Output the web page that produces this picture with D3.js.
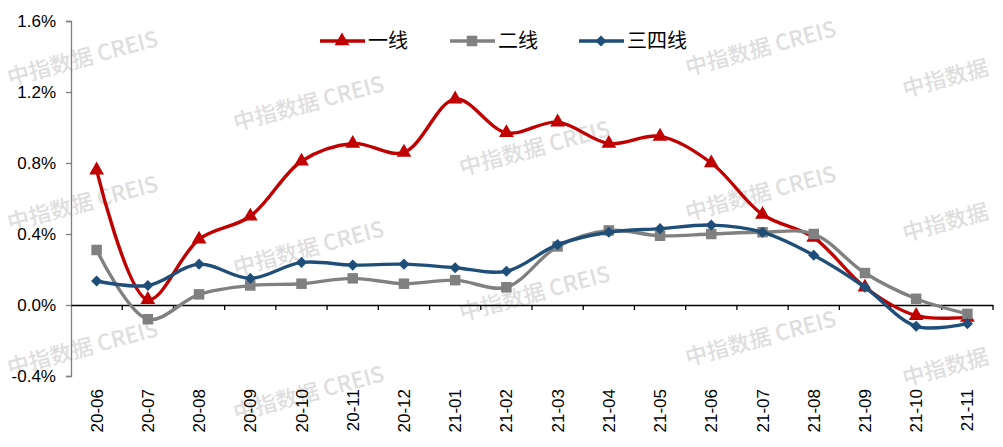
<!DOCTYPE html>
<html>
<head>
<meta charset="utf-8">
<script src="https://cdn.jsdelivr.net/npm/d3@7"></script>
<style>
  body { margin: 0; background: #fff; }
  svg { display: block; }
</style>
</head>
<body>
<script>
// month labels along the bottom
var months = ["20-06","20-07","20-08","20-09","20-10","20-11","20-12","21-01","21-02",
              "21-03","21-04","21-05","21-06","21-07","21-08","21-09","21-10","21-11"];

// month-on-month change, %
var tier1 = [0.76, 0.03, 0.37, 0.50, 0.81, 0.91, 0.86, 1.16, 0.97,
             1.03, 0.91, 0.95, 0.80, 0.51, 0.38, 0.10, -0.06, -0.07];
var tier2 = [0.31, -0.08, 0.06, 0.11, 0.12, 0.15, 0.12, 0.14, 0.10,
             0.33, 0.42, 0.39, 0.40, 0.41, 0.40, 0.18, 0.035, -0.05];
var tier34 = [0.135, 0.11, 0.23, 0.15, 0.24, 0.225, 0.23, 0.21, 0.19,
              0.34, 0.41, 0.43, 0.45, 0.41, 0.28, 0.10, -0.12, -0.105];

var yTicks = [-0.4, 0.0, 0.4, 0.8, 1.2, 1.6];

var seriesNames = ["一线", "二线", "三四线"];
var seriesColors = ["#C00000", "#808080", "#1F4E79"];

// marker shapes: triangle, square, diamond (square turned 45deg)
function marker(k){
  if (k === 0) return { d: d3.symbol().type(d3.symbolTriangle).size(95)(), rot: 0 };
  if (k === 1) return { d: d3.symbol().type(d3.symbolSquare).size(110)(), rot: 0 };
  return { d: d3.symbol().type(d3.symbolSquare).size(62)(), rot: 45 };
}

window.onload = function(){
  var w = 1003, h = 447;
  var svg = d3.select("body").append("svg")
    .attr("width", w)
    .attr("height", h);

  var x = d3.scaleBand().domain(months).range([71, 993]);
  var y = d3.scaleLinear().domain([-0.4, 1.6]).range([376, 21]);

  // watermarks (behind everything)
  var marks = [];
  for (var c = 0; c < 4; c++) {
    for (var r = 0; r < 4; r++) {
      var my = r * 145 + 60 + c * 45 - (c >= 3 ? 145 : 0);
      if (my > 15 && my < 440) marks.push({ x: c * 226 + 83, y: my, t: "中指数据  CREIS" });
    }
  }
  // right edge: only the Chinese part fits
  [80, 224, 369].forEach(function(my){ marks.push({ x: 946, y: my, t: "中指数据" }); });

  svg.append("g").selectAll("text").data(marks).enter().append("text")
    .attr("transform", function(d){ return "translate(" + d.x + "," + d.y + ") rotate(-15)"; })
    .attr("text-anchor", "middle")
    .attr("dominant-baseline", "middle")
    .style("font-family", "Noto Sans CJK SC, sans-serif")
    .style("font-size", "22px")
    .style("font-weight", "500")
    .attr("fill", "#dedede")
    .text(function(d){ return d.t; });

  // y axis
  var yAxis = d3.axisLeft(y)
    .tickValues(yTicks)
    .tickSize(5)
    .tickFormat(function(d){ return d.toFixed(1) + "%"; });
  var gy = svg.append("g").attr("transform", "translate(71,0)").call(yAxis);
  gy.select(".domain").attr("stroke", "#7f7f7f").attr("stroke-width", 1.3);
  gy.selectAll(".tick line").attr("stroke", "#7f7f7f").attr("stroke-width", 1.3);
  gy.selectAll(".tick text")
    .attr("x", -15)
    .style("font-family", "Liberation Sans, Arial, sans-serif")
    .style("font-size", "17px")
    .attr("fill", "#000");

  // x axis at zero line
  var xAxis = d3.axisBottom(x).tickSize(0).tickFormat("");
  var gx = svg.append("g").attr("transform", "translate(0," + y(0) + ")").call(xAxis);
  gx.select(".domain").attr("stroke", "#000").attr("stroke-width", 1.3);
  // tick marks between categories
  var bounds = months.map(function(m){ return x(m) + x.bandwidth(); });
  gx.selectAll(".bound").data(bounds).enter().append("line")
    .attr("x1", function(d){ return d; })
    .attr("x2", function(d){ return d; })
    .attr("y1", 0).attr("y2", 5)
    .attr("stroke", "#000").attr("stroke-width", 1.3);

  // rotated month labels
  svg.append("g").selectAll("text").data(months).enter().append("text")
    .attr("transform", function(d){
      return "translate(" + (x(d) + x.bandwidth() / 2 + 6) + ",389) rotate(-90)";
    })
    .attr("text-anchor", "end")
    .style("font-family", "Liberation Sans, Arial, sans-serif")
    .style("font-size", "17px")
    .text(function(d){ return d; });

  // series
  var all = [tier1, tier2, tier34];
  var line = d3.line()
    .x(function(d, i){ return x(months[i]) + x.bandwidth() / 2; })
    .y(function(d){ return y(d); })
    .curve(d3.curveCatmullRom.alpha(0.5));

  all.forEach(function(vals, k){
    var g = svg.append("g");
    g.append("path")
      .datum(vals)
      .attr("d", line)
      .attr("fill", "none")
      .attr("stroke", seriesColors[k])
      .attr("stroke-width", 3.4);
    var m = marker(k);
    g.selectAll("path.pt").data(vals).enter().append("path")
      .attr("class", "pt")
      .attr("transform", function(d, i){
        return "translate(" + (x(months[i]) + x.bandwidth() / 2) + "," + y(d) + ") rotate(" + m.rot + ")";
      })
      .attr("d", m.d)
      .attr("fill", seriesColors[k]);
  });

  // legend
  var legX = [320, 450, 579];
  var leg = svg.append("g");
  seriesNames.forEach(function(name, k){
    var lg = leg.append("g").attr("transform", "translate(" + legX[k] + ",41)");
    lg.append("line").attr("x1", 0).attr("x2", 45).attr("y1", 0).attr("y2", 0)
      .attr("stroke", seriesColors[k]).attr("stroke-width", 3.4);
    var m = marker(k);
    lg.append("path").attr("transform", "translate(22,0) rotate(" + m.rot + ")")
      .attr("d", m.d)
      .attr("fill", seriesColors[k]);
    lg.append("text").attr("x", 48).attr("y", 7)
      .style("font-family", "Noto Sans CJK SC, sans-serif")
      .style("font-size", "20px")
      .text(name);
  });
};
</script>
</body>
</html>
